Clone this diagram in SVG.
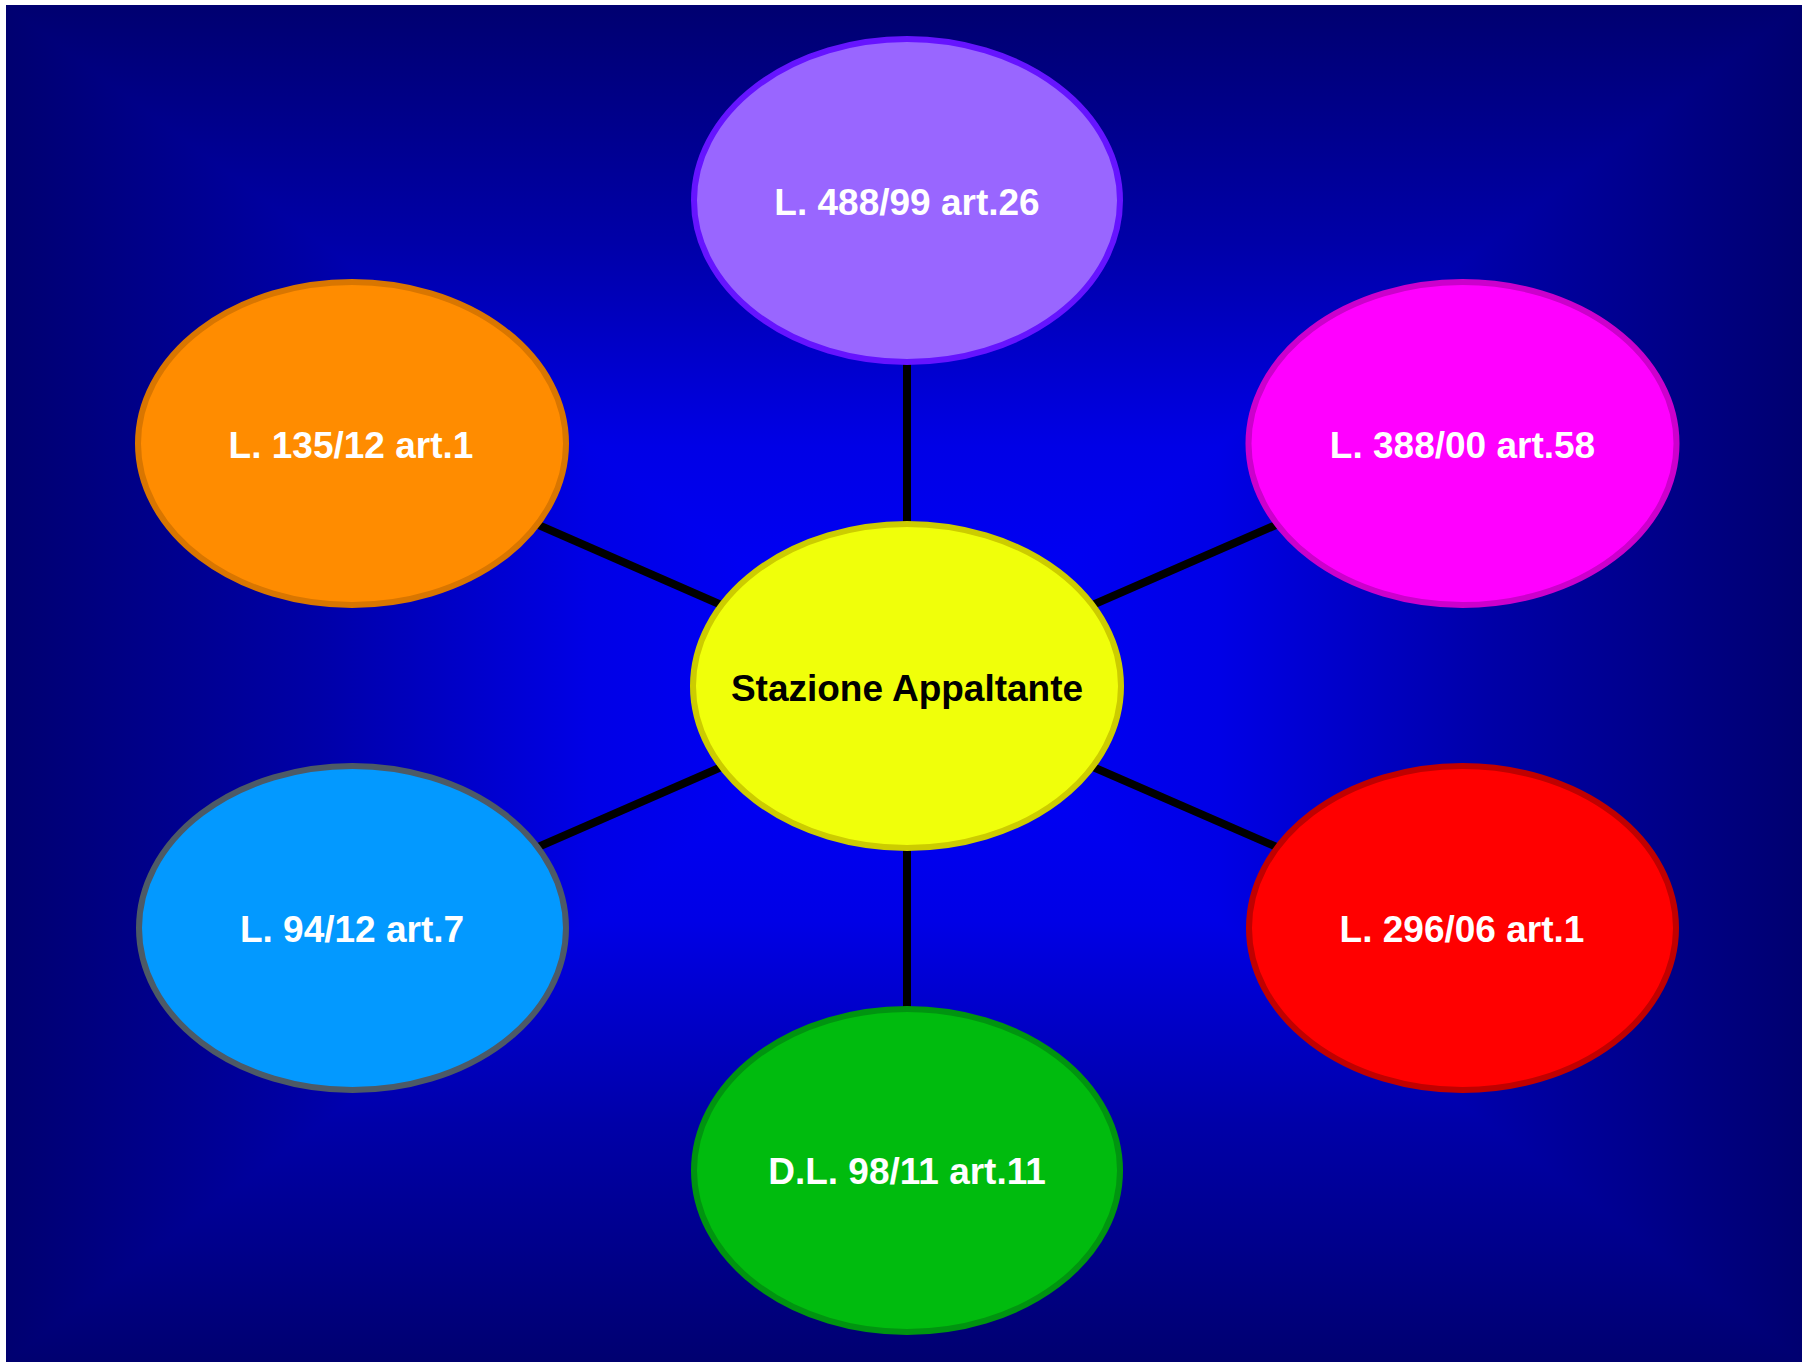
<svg xmlns="http://www.w3.org/2000/svg" width="1802" height="1362" viewBox="0 0 1802 1362">
  <style>
    .bg { shape-rendering: crispEdges; }
    .node ellipse { stroke-width: 6; }
    .node text { font-family: "Liberation Sans", Arial, sans-serif; font-weight: bold; font-size: 37px; text-anchor: middle; fill: #ffffff; }
    .conn line { stroke: #000000; stroke-width: 8; }
  </style>
  <defs>
    <linearGradient id="gT" gradientUnits="userSpaceOnUse" x1="0" y1="5" x2="0" y2="683.5">
      <stop offset="0" stop-color="#000070"/>
      <stop offset="0.35" stop-color="#0000a8"/>
      <stop offset="0.65" stop-color="#0000e6"/>
      <stop offset="1" stop-color="#0000ff"/>
    </linearGradient>
    <linearGradient id="gB" gradientUnits="userSpaceOnUse" x1="0" y1="1362" x2="0" y2="683.5">
      <stop offset="0" stop-color="#000070"/>
      <stop offset="0.35" stop-color="#0000a8"/>
      <stop offset="0.65" stop-color="#0000e6"/>
      <stop offset="1" stop-color="#0000ff"/>
    </linearGradient>
    <linearGradient id="gL" gradientUnits="userSpaceOnUse" x1="6" y1="0" x2="904" y2="0">
      <stop offset="0" stop-color="#000070"/>
      <stop offset="0.35" stop-color="#0000a8"/>
      <stop offset="0.65" stop-color="#0000e6"/>
      <stop offset="1" stop-color="#0000ff"/>
    </linearGradient>
    <linearGradient id="gR" gradientUnits="userSpaceOnUse" x1="1802" y1="0" x2="904" y2="0">
      <stop offset="0" stop-color="#000070"/>
      <stop offset="0.35" stop-color="#0000a8"/>
      <stop offset="0.65" stop-color="#0000e6"/>
      <stop offset="1" stop-color="#0000ff"/>
    </linearGradient>
  </defs>
  <rect x="0" y="0" width="1802" height="1362" fill="#ffffff"/>
  <g id="background" class="bg">
    <rect x="6" y="5" width="1796" height="1357" fill="#0000a8"/>
    <polygon points="6,5 1802,5 904,683.5" fill="url(#gT)"/>
    <polygon points="6,1362 1802,1362 904,683.5" fill="url(#gB)"/>
    <polygon points="6,5 6,1362 904,683.5" fill="url(#gL)"/>
    <polygon points="1802,5 1802,1362 904,683.5" fill="url(#gR)"/>
  </g>
  <g id="connectors" class="conn">
    <line x1="907" y1="686" x2="907" y2="200.5"/>
    <line x1="907" y1="686" x2="352" y2="443.5"/>
    <line x1="907" y1="686" x2="1462.5" y2="443.5"/>
    <line x1="907" y1="686" x2="352.5" y2="928"/>
    <line x1="907" y1="686" x2="1462.5" y2="928"/>
    <line x1="907" y1="686" x2="907" y2="1170.5"/>
  </g>
  <g id="node-top" class="node">
    <ellipse cx="907" cy="200.5" rx="213" ry="161.5" fill="#9966ff" stroke="#6614ff"/>
    <text x="907" y="214.5">L. 488/99 art.26</text>
  </g>
  <g id="node-left-top" class="node">
    <ellipse cx="352" cy="443.5" rx="214" ry="161.5" fill="#ff8c00" stroke="#d97600"/>
    <text x="351" y="457.5">L. 135/12 art.1</text>
  </g>
  <g id="node-right-top" class="node">
    <ellipse cx="1462.5" cy="443.5" rx="214" ry="161.5" fill="#ff00ff" stroke="#cc00cc"/>
    <text x="1462.5" y="457.5">L. 388/00 art.58</text>
  </g>
  <g id="node-center" class="node">
    <ellipse cx="907" cy="686" rx="214" ry="162" fill="#f0ff0a" stroke="#cccc00"/>
    <text x="907" y="700.5" style="fill:#000000">Stazione Appaltante</text>
  </g>
  <g id="node-left-bottom" class="node">
    <ellipse cx="352.5" cy="928" rx="213.5" ry="162" fill="#0399ff" stroke="#4d5a66"/>
    <text x="352" y="942">L. 94/12 art.7</text>
  </g>
  <g id="node-right-bottom" class="node">
    <ellipse cx="1462.5" cy="928" rx="213.5" ry="162" fill="#ff0000" stroke="#c00000"/>
    <text x="1462" y="942">L. 296/06 art.1</text>
  </g>
  <g id="node-bottom" class="node">
    <ellipse cx="907" cy="1170.5" rx="213" ry="161.5" fill="#00bb0e" stroke="#009410"/>
    <text x="907" y="1184">D.L. 98/11 art.11</text>
  </g>
</svg>
